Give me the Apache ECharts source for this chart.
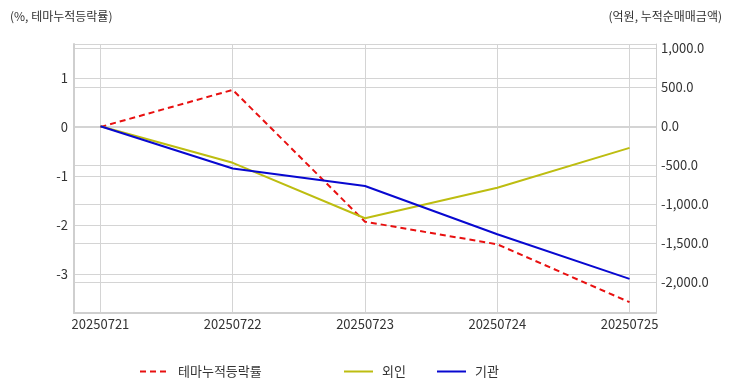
<!DOCTYPE html>
<html>
<head>
<meta charset="utf-8">
<script src="https://cdn.jsdelivr.net/npm/echarts@6/dist/echarts.min.js"></script>
<style>html,body{margin:0;padding:0;background:#fff}#c{width:732px;height:392px}</style>
</head>
<body>
<div id="c"></div>
<script>
const categories = ['20250721', '20250722', '20250723', '20250724', '20250725'];
const themeRate = [0, 0.755, -1.93, -2.39, -3.57];
const foreign = [0, -469, -1180, -789, -277];
const institution = [0, -541, -767, -1385, -1957];
const leftAxisName = '(%, 테마누적등락률)';
const rightAxisName = '(억원, 누적순매매금액)';
const seriesNames = ['테마누적등락률', '외인', '기관'];

const FONT = '"Noto Sans CJK KR", "Noto Sans", sans-serif';
const pairs = arr => arr.map((v, i) => [i, v]);
const gridColor = '#d4d4d4';
const fmt1 = v => Number(v).toLocaleString('en-US', {minimumFractionDigits: 1, maximumFractionDigits: 1});

const chart = echarts.init(document.getElementById('c'));
const legendBase = {
  orient: 'horizontal', top: 360, itemWidth: 29, itemHeight: 14, itemGap: 10,
  itemStyle: {opacity: 0},
  textStyle: {fontFamily: FONT, fontSize: 13, color: '#333', padding: [0, 0, 0, 4]}
};
chart.setOption({
  animation: false,
  textStyle: {fontFamily: FONT},
  title: [
    {text: leftAxisName, left: 10, top: 10, padding: 0, textStyle: {fontFamily: FONT, fontSize: 12, fontWeight: 'normal', color: '#333'}},
    {text: rightAxisName, right: 10, top: 10, padding: 0, textStyle: {fontFamily: FONT, fontSize: 12, fontWeight: 'normal', color: '#333'}}
  ],
  legend: [
    Object.assign({}, legendBase, {left: 134, data: [seriesNames[0]]}),
    Object.assign({}, legendBase, {left: 338, data: [seriesNames[1]]}),
    Object.assign({}, legendBase, {left: 431, data: [seriesNames[2]]})
  ],
  grid: {left: 74, right: 76, top: 44, bottom: 79},
  xAxis: {
    type: 'value', min: -0.2, max: 4.2, splitNumber: 5,
    axisLine: {show: true, onZero: false, lineStyle: {color: '#cfcfcf', width: 2}},
    axisTick: {show: false},
    splitLine: {show: true, lineStyle: {color: gridColor, width: 1}},
    axisLabel: {
      showMinLabel: false, showMaxLabel: false, margin: 5,
      fontFamily: FONT, fontSize: 13, color: '#333',
      formatter: v => (Number.isInteger(v) && categories[v] !== undefined) ? categories[v] : ''
    }
  },
  yAxis: [
    {
      type: 'value', min: -3.79, max: 1.69, position: 'left',
      axisLine: {show: true, onZero: false, lineStyle: {color: '#cfcfcf', width: 2}},
      axisTick: {show: false},
      splitLine: {show: true, lineStyle: {color: gridColor, width: 1}},
      axisLabel: {showMinLabel: false, showMaxLabel: false, margin: 6, fontFamily: FONT, fontSize: 13, color: '#333'}
    },
    {
      type: 'value', min: -2395, max: 1055, position: 'right',
      axisLine: {show: true, onZero: false, lineStyle: {color: '#cfcfcf', width: 1}},
      axisTick: {show: false},
      splitLine: {show: true, lineStyle: {color: gridColor, width: 1}},
      axisLabel: {showMinLabel: false, showMaxLabel: false, margin: 5, fontFamily: FONT, fontSize: 13, color: '#333', formatter: fmt1}
    }
  ],
  series: [
    {name: seriesNames[0], type: 'line', yAxisIndex: 0, data: pairs(themeRate), symbol: 'none',
     lineStyle: {color: '#e81010', width: 2, type: [6, 4]}, itemStyle: {color: '#e81010'}},
    {name: seriesNames[1], type: 'line', yAxisIndex: 1, data: pairs(foreign), symbol: 'none',
     lineStyle: {color: '#bdbd10', width: 2}, itemStyle: {color: '#bdbd10'}},
    {name: seriesNames[2], type: 'line', yAxisIndex: 1, data: pairs(institution), symbol: 'none',
     lineStyle: {color: '#0808d0', width: 2}, itemStyle: {color: '#0808d0'}}
  ]
});
</script>
</body>
</html>
